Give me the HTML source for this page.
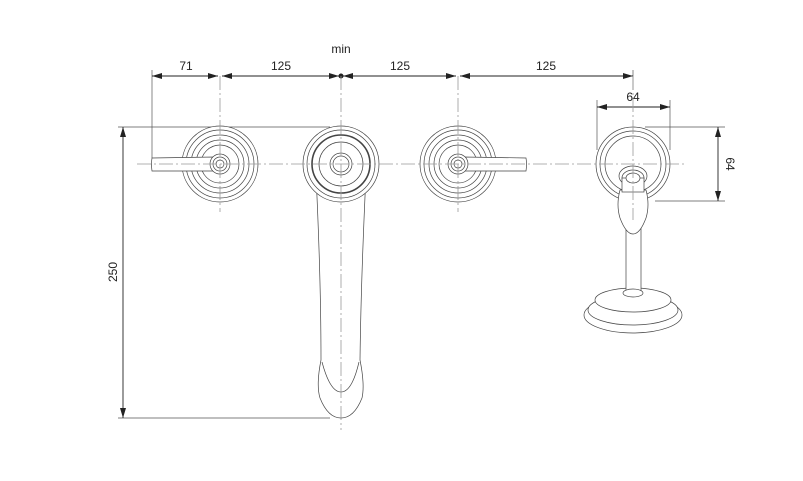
<!DOCTYPE html>
<html><head><style>
html,body{margin:0;padding:0;background:#fff;}
svg{display:block;}
text{font-family:"Liberation Sans",sans-serif;font-size:12px;fill:#222;}
</style></head><body>
<svg width="803" height="481" viewBox="0 0 803 481" xmlns="http://www.w3.org/2000/svg">
<defs>
<marker id="a" markerWidth="10" markerHeight="6" refX="10" refY="3" orient="auto-start-reverse" markerUnits="userSpaceOnUse"><path d="M0,0 L10,3 L0,6z" fill="#222"/></marker>
</defs>
<g stroke="#555" stroke-width="0.7" fill="none">
<line x1="152" y1="70" x2="152" y2="158"/>
<line x1="633" y1="70" x2="633" y2="90"/>
<line x1="597" y1="100" x2="597" y2="150"/>
<line x1="670" y1="100" x2="670" y2="150"/>
<line x1="118" y1="127" x2="330" y2="127"/>
<line x1="118" y1="418" x2="330" y2="418"/>
<line x1="645" y1="127" x2="725" y2="127"/>
<line x1="655" y1="201" x2="725" y2="201"/>
</g>
<g stroke="#222" stroke-width="0.9" fill="none">
<line x1="152" y1="76" x2="218" y2="76" marker-start="url(#a)" marker-end="url(#a)"/>
<line x1="222" y1="76" x2="339" y2="76" marker-start="url(#a)" marker-end="url(#a)"/>
<line x1="343" y1="76" x2="456" y2="76" marker-start="url(#a)" marker-end="url(#a)"/>
<line x1="460" y1="76" x2="633" y2="76" marker-start="url(#a)" marker-end="url(#a)"/>
<line x1="597" y1="107" x2="670" y2="107" marker-start="url(#a)" marker-end="url(#a)"/>
<line x1="123" y1="127" x2="123" y2="418" marker-start="url(#a)" marker-end="url(#a)"/>
<line x1="718" y1="127" x2="718" y2="201" marker-start="url(#a)" marker-end="url(#a)"/>
</g>
<circle cx="341" cy="76" r="2.5" fill="#222"/>
<text x="186" y="70" text-anchor="middle">71</text>
<text x="281" y="70" text-anchor="middle">125</text>
<text x="341" y="53" text-anchor="middle">min</text>
<text x="400" y="70" text-anchor="middle">125</text>
<text x="546" y="70" text-anchor="middle">125</text>
<text x="633" y="101" text-anchor="middle">64</text>
<text transform="translate(117,272) rotate(-90)" text-anchor="middle">250</text>
<text transform="translate(726,164) rotate(90)" text-anchor="middle">64</text>
<g stroke="#444" stroke-width="0.7" fill="#fff">
<circle cx="220" cy="164" r="38"/><circle cx="220" cy="164" r="34"/><circle cx="220" cy="164" r="29"/><circle cx="220" cy="164" r="24"/><circle cx="220" cy="164" r="19"/>
<path d="M152,158 L214,157 L214,171 L152,171 Q151,164 152,158z"/>
<circle cx="220" cy="164" r="10"/><circle cx="220" cy="164" r="7"/><circle cx="220" cy="164" r="4"/>
<circle cx="458" cy="164" r="38"/><circle cx="458" cy="164" r="34"/><circle cx="458" cy="164" r="29"/><circle cx="458" cy="164" r="24"/><circle cx="458" cy="164" r="19"/>
<path d="M464,157 L526,158 Q527,164 526,171 L464,171z"/>
<circle cx="458" cy="164" r="10"/><circle cx="458" cy="164" r="7"/><circle cx="458" cy="164" r="4"/>
<!-- spout (behind rosette) -->
<path d="M316,175 Q321,280 321,360 Q316,385 320,398 Q328,418 341,418 Q354,418 362,398 Q365,385 360,360 Q361,280 366,175 Z"/>
<path d="M322,362 Q330,392 341,392 Q352,392 359,362" fill="none"/>
<circle cx="341" cy="164" r="38"/><circle cx="341" cy="164" r="34"/>
<circle cx="341" cy="164" r="29" stroke-width="1.6"/><circle cx="341" cy="164" r="22"/>
<circle cx="341" cy="164" r="11"/><circle cx="341" cy="164" r="8"/>
<!-- shower -->
<circle cx="633" cy="164" r="37"/><circle cx="633" cy="164" r="33"/><circle cx="633" cy="164" r="28"/>
<ellipse cx="633" cy="315" rx="49" ry="18"/>
<ellipse cx="633" cy="310" rx="45" ry="15"/>
<ellipse cx="633" cy="300" rx="38" ry="12"/>
<rect x="626" y="225" width="15" height="68"/>
<ellipse cx="633" cy="293" rx="10" ry="4"/>
<path d="M620,190 Q616,205 620,218 Q626,234 633,234 Q640,234 646,218 Q650,205 646,190 Z"/>
<ellipse cx="633" cy="176" rx="14" ry="10"/><ellipse cx="633" cy="178" rx="11" ry="8"/><rect x="622" y="178" width="22" height="14"/><ellipse cx="633" cy="178" rx="7" ry="5"/>
</g>
<g stroke="#999" stroke-width="0.8" fill="none" stroke-dasharray="14,3,2,3">
<line x1="137" y1="164" x2="685" y2="164"/>
<line x1="220" y1="76" x2="220" y2="212"/>
<line x1="341" y1="76" x2="341" y2="430"/>
<line x1="458" y1="76" x2="458" y2="212"/>
<line x1="633" y1="76" x2="633" y2="220"/>
</g>
</svg>
</body></html>
